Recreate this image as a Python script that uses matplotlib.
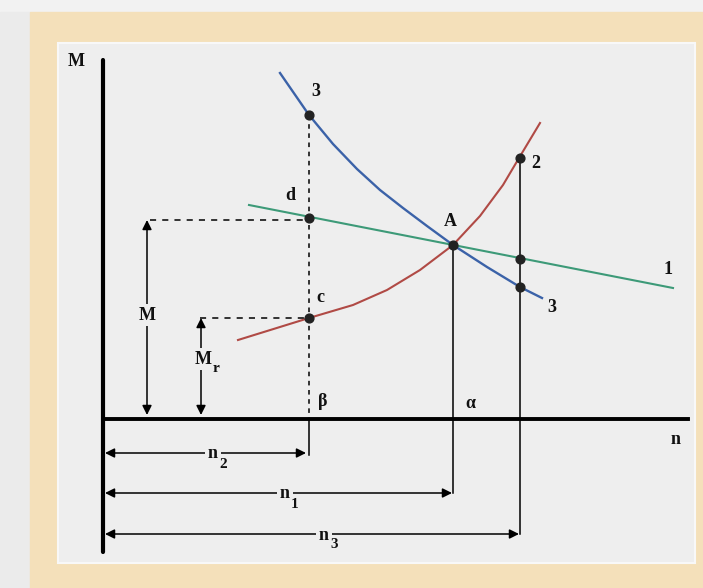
import numpy as np
import matplotlib.pyplot as plt
from matplotlib.patches import Rectangle

plt.rcParams['font.family'] = ['Liberation Serif', 'DejaVu Serif']

# diagram units: n to the right of the origin, M upward from the n axis
blue_n = [177, 206, 230, 254, 277, 300, 324, 350, 384, 417, 439]
blue_m = [346, 304, 275, 250, 229, 211, 193, 174, 152, 132, 121]
red_n = [135, 206, 250, 284, 317, 350, 377, 400, 416, 437]
red_m = [79, 101, 114, 129, 149, 174, 203, 234, 261, 296]
green_n = [146, 570]
green_m = [214, 131]

n2, n1, n3 = 206, 350, 417
M_d, M_c, M_A = 201, 101, 174
M3_top, M2_top, M1_n3, M3_n3 = 304, 261, 160, 132

dot_n = [n2, n2, n2, n1, n3, n3, n3]
dot_m = [M3_top, M_d, M_c, M_A, M2_top, M1_n3, M3_n3]

# labels with a subscript: (base, subscript, right edge of base, M)
sub_labels = [('M', 'r', 109, 57), ('n', '2', 115, -38),
              ('n', '1', 187, -78), ('n', '3', 226, -119)]

panel = '#eeeeee'
tan = '#f4e0ba'

fig = plt.figure(figsize=(7.03, 5.88), dpi=100, facecolor='#f2f2f2')
W, H = 703, 588
fig.patches.append(Rectangle((0, 0), 30 / W, 1 - 12 / H, transform=fig.transFigure,
                             color='#ebebeb', zorder=-10))
fig.patches.append(Rectangle((30 / W, 0), 1 - 30 / W, 1 - 12 / H, transform=fig.transFigure,
                             color=tan, zorder=-10))
fig.patches.append(Rectangle((58 / W, 25 / H), (695 - 58) / W, (563 - 43) / H,
                             transform=fig.transFigure, facecolor=panel,
                             edgecolor='#f8f8f8', lw=1.5, zorder=-9))

ax = fig.add_axes([0, 0, 1, 1])
ax.set_zorder(5)
ax.set_xlim(-103, 600)
ax.set_ylim(-169, 419)
ax.axis('off')
ax.patch.set_alpha(0)

# axes of the diagram
ax.plot([0, 0], [359, -133], color='black', lw=3, solid_capstyle='round')
ax.plot([0, 585], [0, 0], color='black', lw=2.8)

# curves
ax.plot(blue_n, blue_m, color='#3b62a8', lw=1.7, solid_joinstyle='round')
ax.plot(red_n, red_m, color='#b04a45', lw=1.5, solid_joinstyle='round')
ax.plot(green_n, green_m, color='#3d9a78', lw=1.5)

# projection lines
ax.plot([n2, n2], [M3_top, 0], color='black', lw=1.1, ls=(0, (3, 3)))
ax.plot([n2, n2], [0, -36], color='black', lw=1.1)
ax.plot([n1, n1], [M_A, -74], color='black', lw=1.1)
ax.plot([n3, n3], [M2_top, -115], color='black', lw=1.1)
ax.plot([47, n2], [M_d - 2, M_d - 2], color='black', lw=1.1, ls=(0, (4, 4)))
ax.plot([97, n2], [M_c, M_c], color='black', lw=1.1, ls=(0, (4, 4)))

ax.scatter(dot_n, dot_m, s=40, color='#222222', zorder=5)

arrow = dict(arrowstyle='<|-|>', color='black', lw=1.1, mutation_scale=14,
             shrinkA=0, shrinkB=0)
ax.annotate('', xy=(44, M_d - 2), xytext=(44, 4), arrowprops=arrow)
ax.annotate('', xy=(98, M_c), xytext=(98, 4), arrowprops=arrow)
ax.annotate('', xy=(2, -34), xytext=(n2 - 3, -34), arrowprops=arrow)
ax.annotate('', xy=(2, -74), xytext=(n1 - 1, -74), arrowprops=arrow)
ax.annotate('', xy=(2, -115), xytext=(n3 - 1, -115), arrowprops=arrow)

box = dict(facecolor=panel, edgecolor='none', pad=2)
lab = dict(ha='center', va='center', fontsize=13, color='#111111',
           fontweight='bold', zorder=6)
ax.text(-27, 357, 'M', **lab)
ax.text(573, -21, 'n', **lab)
ax.text(213, 327, '3', **lab)
ax.text(433, 256, '2', **lab)
ax.text(449, 112, '3', **lab)
ax.text(565, 149, '1', **lab)
ax.text(347, 197, 'A', **lab)
ax.text(187, 223, 'd', **lab)
ax.text(217, 122, 'c', **lab)
ax.text(220, 17, 'β', **lab)
ax.text(367, 16, 'α', **lab)
ax.text(44, 104, 'M', bbox=box, **lab)

for base, sub, xn, ym in sub_labels:
    ax.text(xn, ym + 3, base, bbox=box, **dict(lab, ha='right'))
    sub_kw = dict(lab, ha='left', fontsize=11, zorder=7)
    ax.text(xn + 1, ym - 7, sub, bbox=dict(box, pad=0.5), **sub_kw)

fig.savefig('out.png', dpi=100, facecolor=fig.get_facecolor())
